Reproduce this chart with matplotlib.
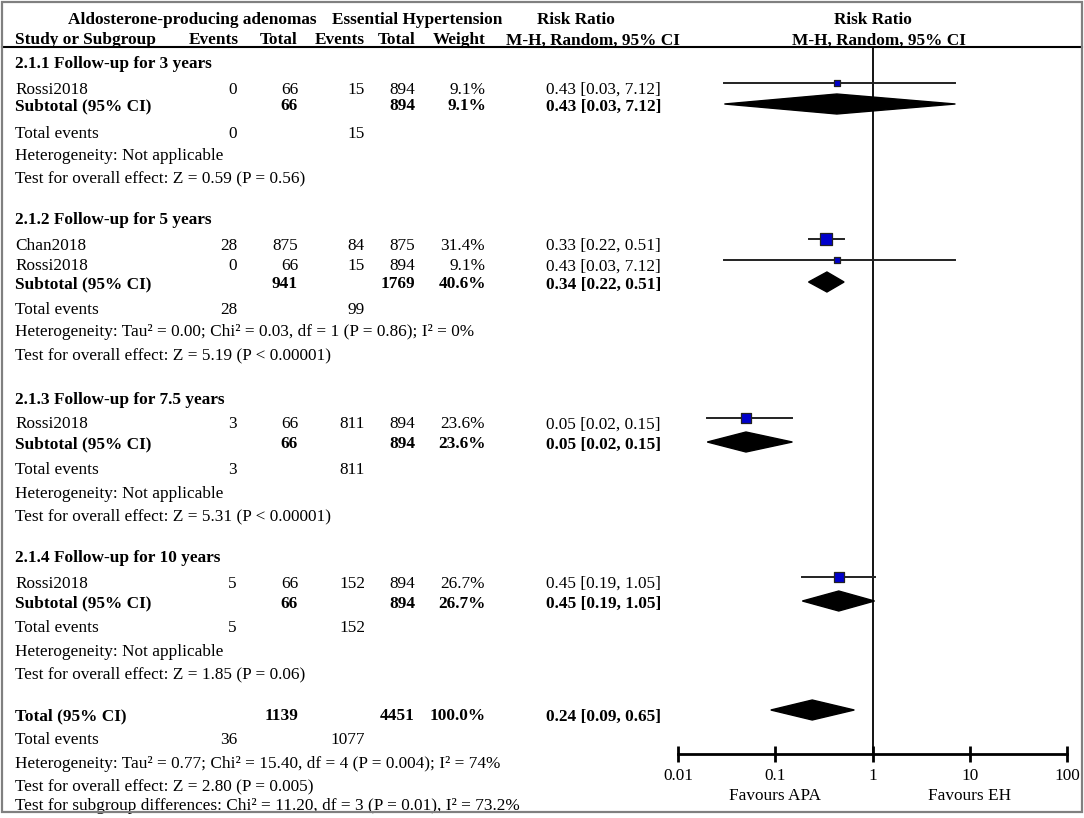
import numpy as np
import matplotlib.pyplot as plt
from matplotlib.patches import Rectangle
from matplotlib.ticker import NullLocator

plt.rcParams['font.family'] = ['Liberation Serif', 'DejaVu Serif']
FS = 12.4

# # Data: individual studies
group_names = ['2.1.1 Follow-up for 3 years', '2.1.2 Follow-up for 5 years',
               '2.1.3 Follow-up for 7.5 years', '2.1.4 Follow-up for 10 years']
study_names = ['Rossi2018', 'Chan2018', 'Rossi2018', 'Rossi2018', 'Rossi2018']
apa_events = [0, 28, 0, 3, 5]
apa_total = [66, 875, 66, 66, 66]
eh_events = [15, 84, 15, 811, 152]
eh_total = [894, 875, 894, 894, 894]
weights = [9.1, 31.4, 9.1, 23.6, 26.7]
rr = [0.43, 0.33, 0.43, 0.05, 0.45]
rr_lo = [0.03, 0.22, 0.03, 0.02, 0.19]
rr_hi = [7.12, 0.51, 7.12, 0.15, 1.05]

# subtotals
sub_apa_total = [66, 941, 66, 66]
sub_eh_total = [894, 1769, 894, 894]
sub_weight = [9.1, 40.6, 23.6, 26.7]
sub_rr = [0.43, 0.34, 0.05, 0.45]
sub_lo = [0.03, 0.22, 0.02, 0.19]
sub_hi = [7.12, 0.51, 0.15, 1.05]
sub_apa_events = [0, 28, 3, 5]
sub_eh_events = [15, 99, 811, 152]
sub_het = ['Heterogeneity: Not applicable',
           'Heterogeneity: Tau² = 0.00; Chi² = 0.03, df = 1 (P = 0.86); I² = 0%',
           'Heterogeneity: Not applicable',
           'Heterogeneity: Not applicable']
sub_test = ['Test for overall effect: Z = 0.59 (P = 0.56)',
            'Test for overall effect: Z = 5.19 (P < 0.00001)',
            'Test for overall effect: Z = 5.31 (P < 0.00001)',
            'Test for overall effect: Z = 1.85 (P = 0.06)']

# overall
tot_apa_total = 1139
tot_eh_total = 4451
tot_weight = 100.0
tot_rr, tot_lo, tot_hi = 0.24, 0.09, 0.65
tot_apa_events = 36
tot_eh_events = 1077
tot_het = 'Heterogeneity: Tau² = 0.77; Chi² = 15.40, df = 4 (P = 0.004); I² = 74%'
tot_test = 'Test for overall effect: Z = 2.80 (P = 0.005)'
subgroup_test = 'Test for subgroup differences: Chi² = 11.20, df = 3 (P = 0.01), I² = 73.2%'

axis_ticks = [0.01, 0.1, 1, 10, 100]
axis_labels = ['0.01', '0.1', '1', '10', '100']

#----------------------------------
# layout (pixel rows / columns)
group_y = [63, 220, 400, 557]
study_y = [89, 245, 266, 424, 583]
sub_y = [106, 284, 444, 603]
te_y = [133, 309, 469, 628]
het_y = [155, 332, 493, 651]
test_y = [178, 355, 516, 674]
total_y, total_te_y, total_het_y, total_test_y, subgroup_y = 716, 740, 763, 786, 806
x_name, x_ev1, x_tot1, x_ev2, x_tot2, x_w, x_ci = 15, 237, 298, 365, 415, 485, 661
mark_off = -6
base = 4.5

fig = plt.figure(figsize=(10.84, 8.18), dpi=100)
ax = fig.add_axes([0, 0, 1, 1])
ax.set_xlim(0, 1084)
ax.set_ylim(818, 0)
ax.axis('off')


def t(x, y, s, ha='left', bold=False):
    ax.text(x, y + base, s, ha=ha, va='baseline', fontsize=FS,
            fontweight='bold' if bold else 'normal')


# header
t(192, 19, 'Aldosterone-producing adenomas', 'center', True)
t(417, 19, 'Essential Hypertension', 'center', True)
t(576, 19, 'Risk Ratio', 'center', True)
t(873, 19, 'Risk Ratio', 'center', True)
t(x_name, 40, 'Study or Subgroup', bold=True)
t(x_ev1 + 2, 40, 'Events', 'right', True)
t(x_tot1, 40, 'Total', 'right', True)
t(x_ev2, 40, 'Events', 'right', True)
t(x_tot2, 40, 'Total', 'right', True)
t(x_w + 1, 40, 'Weight', 'right', True)
t(593, 40, 'M-H, Random, 95% CI', 'center', True)
t(879, 40, 'M-H, Random, 95% CI', 'center', True)
ax.plot([2, 1082], [47, 47], color='black', lw=1.5)

# study rows
for i, name in enumerate(study_names):
    y = study_y[i]
    t(x_name, y, name)
    t(x_ev1, y, str(apa_events[i]), 'right')
    t(x_tot1, y, str(apa_total[i]), 'right')
    t(x_ev2, y, str(eh_events[i]), 'right')
    t(x_tot2, y, str(eh_total[i]), 'right')
    t(x_w, y, f'{weights[i]:.1f}%', 'right')
    t(x_ci, y, f'{rr[i]:.2f} [{rr_lo[i]:.2f}, {rr_hi[i]:.2f}]', 'right')

for g, gname in enumerate(group_names):
    t(x_name, group_y[g], gname, bold=True)
    y = sub_y[g]
    t(x_name, y, 'Subtotal (95% CI)', bold=True)
    t(x_tot1, y, str(sub_apa_total[g]), 'right', True)
    t(x_tot2, y, str(sub_eh_total[g]), 'right', True)
    t(x_w + 1, y, f'{sub_weight[g]:.1f}%', 'right', True)
    t(x_ci, y, f'{sub_rr[g]:.2f} [{sub_lo[g]:.2f}, {sub_hi[g]:.2f}]', 'right', True)
    t(x_name, te_y[g], 'Total events')
    t(x_ev1, te_y[g], str(sub_apa_events[g]), 'right')
    t(x_ev2, te_y[g], str(sub_eh_events[g]), 'right')
    t(x_name, het_y[g], sub_het[g])
    t(x_name, test_y[g], sub_test[g])

t(x_name, total_y, 'Total (95% CI)', bold=True)
t(x_tot1, total_y, str(tot_apa_total), 'right', True)
t(x_tot2, total_y, str(tot_eh_total), 'right', True)
t(x_w + 1, total_y, f'{tot_weight:.1f}%', 'right', True)
t(x_ci, total_y, f'{tot_rr:.2f} [{tot_lo:.2f}, {tot_hi:.2f}]', 'right', True)
t(x_name, total_te_y, 'Total events')
t(x_ev1, total_te_y, str(tot_apa_events), 'right')
t(x_ev2, total_te_y, str(tot_eh_events), 'right')
t(x_name, total_het_y, tot_het)
t(x_name, total_test_y, tot_test)
t(x_name, subgroup_y, subgroup_test)

ax.add_patch(Rectangle((2, 2), 1080, 810, fill=False, edgecolor='#808080',
                       lw=1.6, zorder=10))

#----------------------------------
# forest plot panel
fp = fig.add_axes([678 / 1084, 0, 389 / 1084, 1])
fp.set_xscale('log')
fp.set_xlim(0.01, 100)
fp.set_ylim(818, 0)
fp.patch.set_alpha(0)
for s in ['top', 'left', 'right']:
    fp.spines[s].set_visible(False)
fp.spines['bottom'].set_position(('data', 754))
fp.spines['bottom'].set_linewidth(2)
fp.set_yticks([])
fp.set_xticks(axis_ticks, axis_labels)
fp.xaxis.set_minor_locator(NullLocator())
fp.tick_params(axis='x', direction='inout', length=12, width=2,
               labelsize=FS, pad=4)

fp.plot([1, 1], [47, 754], color='black', lw=1.3)

for i in range(len(rr)):
    y = study_y[i] + mark_off
    fp.plot([rr_lo[i], rr_hi[i]], [y, y], color='#222222', lw=1.4, zorder=2)
    fp.scatter(rr[i], y, s=weights[i] * 2.2, marker='s', color='#0000cc',
               edgecolor='#222222', linewidth=0.9, zorder=3)

dh = 10
for g in range(len(sub_rr)):
    y = sub_y[g] + mark_off + 4
    fp.fill([sub_lo[g], sub_rr[g], sub_hi[g], sub_rr[g]],
            [y, y - dh, y, y + dh], color='black', zorder=3)
y = total_y + mark_off
fp.fill([tot_lo, tot_rr, tot_hi, tot_rr], [y, y - dh, y, y + dh],
        color='black', zorder=3)

fp.text(0.1, 796, 'Favours APA', ha='center', va='center', fontsize=FS)
fp.text(10, 796, 'Favours EH', ha='center', va='center', fontsize=FS)

plt.savefig('out.png', dpi=100)
